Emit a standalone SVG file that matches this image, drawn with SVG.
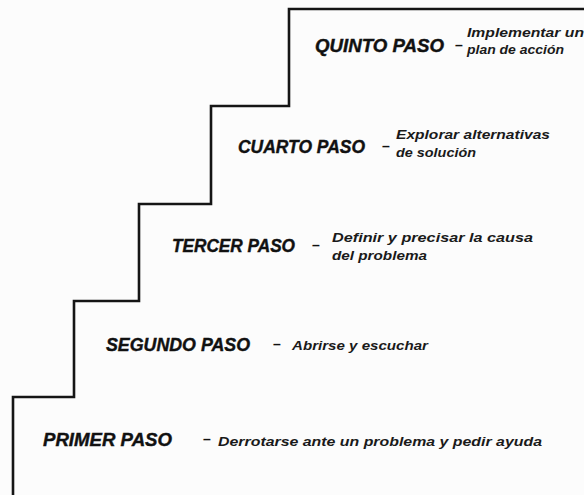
<svg xmlns="http://www.w3.org/2000/svg" width="584" height="495" viewBox="0 0 584 495">
<style>
.h{font-family:"Liberation Sans","DejaVu Sans",sans-serif;font-weight:bold;font-style:italic;font-size:18px;fill:#111;stroke:#111;stroke-width:0.4}
.d{font-family:"Liberation Sans","DejaVu Sans",sans-serif;font-weight:bold;font-style:italic;font-size:13px;fill:#1a1a1a}
.dash{font-family:"Liberation Sans",sans-serif;font-weight:bold;font-size:14px;fill:#111}
.stair{fill:none;stroke:#151515;stroke-width:2.6;stroke-linejoin:miter}
</style>
<rect width="584" height="495" fill="#fcfcfc"/>
<g id="staircase">
<polyline class="stair" points="584,9 289,9 289,106 211,106 211,204 139,204 139,301 74,301 74,397 13,397 13,495"/>
</g>
<g id="quinto">
<text class="h" x="315" y="52" textLength="129" lengthAdjust="spacingAndGlyphs">QUINTO PASO</text>
<text class="dash" x="455" y="50">–</text>
<text class="d" x="467" y="37" textLength="117" lengthAdjust="spacingAndGlyphs">Implementar un</text>
<text class="d" x="467" y="54" textLength="97" lengthAdjust="spacingAndGlyphs">plan de acción</text>
</g>
<g id="cuarto">
<text class="h" x="238" y="153" textLength="127" lengthAdjust="spacingAndGlyphs">CUARTO PASO</text>
<text class="dash" x="382" y="151">–</text>
<text class="d" x="396" y="139" textLength="154" lengthAdjust="spacingAndGlyphs">Explorar alternativas</text>
<text class="d" x="396" y="157" textLength="80" lengthAdjust="spacingAndGlyphs">de solución</text>
</g>
<g id="tercer">
<text class="h" x="172" y="252" textLength="123" lengthAdjust="spacingAndGlyphs">TERCER PASO</text>
<text class="dash" x="312" y="250">–</text>
<text class="d" x="332" y="242" textLength="201" lengthAdjust="spacingAndGlyphs">Definir y precisar la causa</text>
<text class="d" x="332" y="260" textLength="95" lengthAdjust="spacingAndGlyphs">del problema</text>
</g>
<g id="segundo">
<text class="h" x="106" y="351" textLength="144" lengthAdjust="spacingAndGlyphs">SEGUNDO PASO</text>
<text class="dash" x="273" y="349">–</text>
<text class="d" x="292" y="350" textLength="136" lengthAdjust="spacingAndGlyphs">Abrirse y escuchar</text>
</g>
<g id="primer">
<text class="h" x="43" y="446" textLength="129" lengthAdjust="spacingAndGlyphs">PRIMER PASO</text>
<text class="dash" x="203" y="444">–</text>
<text class="d" x="218" y="446" textLength="324" lengthAdjust="spacingAndGlyphs">Derrotarse ante un problema y pedir ayuda</text>
</g>
</svg>
